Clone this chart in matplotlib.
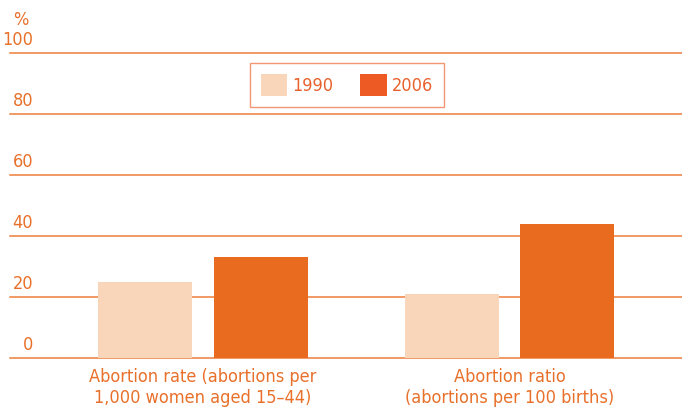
import numpy as np
import matplotlib.pyplot as plt
from matplotlib.patches import Patch
from matplotlib.transforms import blended_transform_factory

plt.rcParams['font.family'] = ['Liberation Sans Narrow', 'DejaVu Sans']
plt.rcParams['font.stretch'] = 'condensed'

categories = ['Abortion rate (abortions per\n1,000 women aged 15\u201344)',
              'Abortion ratio\n(abortions per 100 births)']
years = ['1990', '2006']
v1990 = [25, 21]
v2006 = [33, 44]
yticks = [0, 20, 40, 60, 80, 100]

orange = '#E8702A'
light = '#F9D5BA'
dark = '#E96B1F'

fig = plt.figure(figsize=(6.82, 4.12), dpi=100)
ax = fig.add_axes([10/682, 54/412, 672/682, 305/412])

x = np.arange(len(categories))
w = 0.307
off = 0.189
ax.bar(x - off, v1990, w, color=light, zorder=3)
ax.bar(x + off, v2006, w, color=dark, zorder=3)

ax.set_xlim(-0.630, 1.563)
ax.set_ylim(0, 100)
for y in yticks:
    ax.axhline(y, color='#EE7D3A', lw=1.1, zorder=1, clip_on=False)
for s in ax.spines.values():
    s.set_visible(False)

ax.set_yticks([])
tr = blended_transform_factory(ax.transAxes, ax.transData)
for y in yticks:
    ax.text(23/672, y + 1.3, str(y), transform=tr, ha='right', va='bottom',
            color=orange, fontsize=13)
ax.text(3/672, 1.08, '%', transform=ax.transAxes, ha='left', va='bottom',
        color=orange, fontsize=13)

ax.set_xticks(x)
ax.set_xticklabels(categories, color=orange, fontsize=13, linespacing=1.25)
ax.tick_params(axis='x', length=0, pad=7)

handles = [Patch(facecolor=light, edgecolor='none', label=years[0]),
           Patch(facecolor='#EE5A24', edgecolor='none', label=years[1])]
leg = ax.legend(handles=handles, loc='center', bbox_to_anchor=(0.5015, 0.895),
                ncol=2, frameon=True, fancybox=False, fontsize=13,
                handlelength=1.45, handleheight=1.45, handletextpad=0.3,
                columnspacing=1.5, borderpad=0.6)
leg.get_frame().set_edgecolor('#EE7D50')
leg.get_frame().set_linewidth(1.0)
for t in leg.get_texts():
    t.set_color('#E8612C')

fig.savefig('out.png', dpi=100)
